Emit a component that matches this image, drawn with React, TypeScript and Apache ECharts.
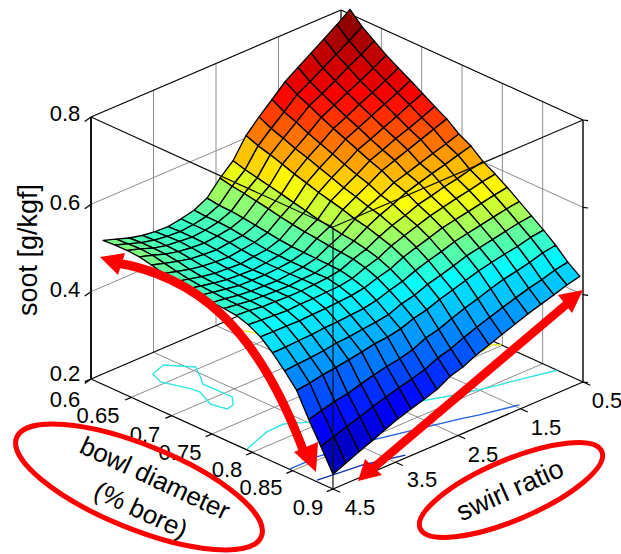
import React, { useEffect, useRef } from "react";
import * as echarts from "echarts";

const BOWL_GRID = [0.615,0.63,0.645,0.66,0.675,0.69,0.705,0.72,0.735,0.75,0.765,0.78,0.795,0.81,0.825,0.84,0.855,0.87,0.885,0.9];
const SWIRL_GRID = [0.55,0.758,0.966,1.174,1.382,1.589,1.797,2.005,2.213,2.421,2.629,2.837,3.045,3.253,3.461,3.668,3.876,4.084,4.292,4.5];

const soot00 = [.817,.795,.775,.755,.735,.715,.687,.660,.630,.585,.558,.525,.510,.503,.498,.499,.503,.510,.520,.530];
const soot01 = [.790,.770,.752,.733,.715,.698,.671,.646,.619,.577,.552,.521,.508,.502,.499,.501,.505,.512,.522,.532];
const soot02 = [.770,.751,.735,.717,.700,.685,.660,.636,.611,.571,.548,.520,.508,.502,.499,.502,.505,.512,.523,.532];
const soot03 = [.750,.733,.717,.702,.686,.671,.647,.625,.602,.565,.543,.517,.506,.501,.498,.500,.504,.511,.521,.530];
const soot04 = [.733,.717,.702,.688,.672,.658,.636,.616,.592,.559,.538,.513,.502,.499,.495,.497,.500,.507,.515,.524];
const soot05 = [.717,.702,.688,.674,.660,.646,.625,.606,.584,.552,.532,.509,.499,.495,.491,.493,.496,.501,.509,.517];
const soot06 = [.700,.687,.673,.660,.646,.634,.614,.596,.575,.546,.527,.505,.495,.492,.488,.490,.492,.497,.504,.511];
const soot07 = [.683,.670,.658,.647,.634,.622,.603,.586,.568,.539,.523,.502,.494,.490,.487,.488,.490,.495,.501,.507];
const soot08 = [.667,.656,.645,.634,.623,.612,.594,.578,.561,.535,.520,.501,.493,.490,.488,.488,.489,.494,.499,.505];
const soot09 = [.645,.635,.626,.616,.606,.597,.581,.568,.552,.530,.516,.500,.493,.490,.487,.488,.489,.492,.497,.501];
const soot10 = [.630,.622,.613,.605,.596,.587,.573,.561,.546,.527,.514,.499,.492,.491,.488,.489,.490,.492,.496,.500];
const soot11 = [.607,.601,.593,.587,.579,.572,.560,.550,.537,.521,.511,.498,.493,.491,.489,.489,.490,.491,.495,.497];
const soot12 = [.591,.586,.579,.573,.566,.559,.549,.539,.528,.513,.504,.492,.487,.486,.484,.484,.482,.484,.486,.488];
const soot13 = [.573,.568,.562,.556,.550,.544,.534,.525,.515,.501,.493,.483,.478,.476,.474,.473,.471,.472,.472,.473];
const soot14 = [.553,.549,.543,.537,.531,.525,.515,.507,.497,.485,.477,.467,.461,.459,.456,.455,.452,.451,.449,.449];
const soot15 = [.533,.529,.523,.517,.511,.505,.495,.486,.478,.466,.459,.447,.442,.439,.435,.433,.428,.425,.423,.420];
const soot16 = [.513,.509,.501,.496,.490,.483,.474,.465,.456,.445,.438,.427,.421,.418,.412,.407,.402,.398,.392,.388];
const soot17 = [.491,.486,.477,.470,.464,.455,.445,.436,.425,.413,.406,.392,.384,.379,.372,.364,.355,.350,.342,.334];
const soot18 = [.465,.459,.450,.443,.434,.425,.415,.405,.394,.381,.373,.359,.350,.343,.334,.325,.314,.305,.295,.285];
const soot19 = [.445,.438,.428,.419,.410,.399,.388,.377,.366,.352,.343,.326,.316,.307,.297,.285,.272,.260,.247,.234];
const SOOT = [soot00,soot01,soot02,soot03,soot04,soot05,soot06,soot07,soot08,soot09,soot10,soot11,soot12,soot13,soot14,soot15,soot16,soot17,soot18,soot19];

const BOWL_TICKS = [0.6,0.65,0.7,0.75,0.8,0.85,0.9];
const SWIRL_TICKS = [0.5,1.5,2.5,3.5,4.5];
const SOOT_TICKS = [0.2,0.4,0.6,0.8];

// floor contours, [bowl, swirl]
const contourCyanLoop = [[.630,3.90],[.624,3.65],[.646,3.42],[.663,3.56],[.674,3.67],[.710,3.66],[.722,3.80],[.724,3.92],[.707,3.97],[.684,3.84],[.675,3.85],[.646,3.98],[.630,3.90]];
const contourCyan = [[.792,4.48],[.780,4.01],[.779,3.73],[.792,3.48],[.830,2.16],[.843,1.73],[.852,1.34],[.856,1.10],[.868,.50]];
const contourBlue = [[.846,4.49],[.846,4.22],[.845,4.05],[.855,3.28],[.869,2.60],[.878,2.18],[.884,1.95],[.894,1.44]];
const contourNavy = [[.878,4.47],[.882,4.04],[.884,3.82],[.896,3.29]];
const contourYellowA = [[.616,2.41],[.638,2.29]];
const contourYellowB = [[.796,.77],[.793,.58],[.799,.5]];

// colour scale: soot value at each colour of the jet map
const COLOR_LEVELS = [0.23,0.32,0.48,0.575,0.695,0.81];
const COLOR_RGB = [[0,0,143],[0,0,255],[0,255,255],[255,255,0],[255,0,0],[128,0,0]];

function colorOf(z: number) {
  let k = 0;
  while (k < COLOR_LEVELS.length - 2 && z > COLOR_LEVELS[k + 1]) k++;
  const t = Math.max(0, Math.min(1, (z - COLOR_LEVELS[k]) / (COLOR_LEVELS[k + 1] - COLOR_LEVELS[k])));
  const c = COLOR_RGB[k].map((v, n) => Math.round(v + (COLOR_RGB[k + 1][n] - v) * t));
  return `rgb(${c[0]},${c[1]},${c[2]})`;
}

function project(bowl: number, swirl: number, soot: number) {
  const b = (bowl - 0.6) / 0.3;
  const s = (swirl - 0.5) / 4;
  return [341 + 242 * b - 250 * s, 272 + 110 * b + 107 * s - (soot - 0.2) * 436.7];
}

type Path3 = { pts: number[][]; color: string; width: number };
const GRAY = "#8c8c8c";
const seg = (a: number[], b: number[], color: string, width = 1.2): Path3 => ({ pts: [a, b], color, width });

const BMIN = 0.6, BMAX = 0.9, SMIN = 0.5, SMAX = 4.5, ZMIN = 0.2, ZMAX = 0.8;

function backLines(): Path3[] {
  const out: Path3[] = [];
  for (const z of SOOT_TICKS.slice(1, 3)) {
    out.push({ pts: [[BMIN, SMAX, z], [BMIN, SMIN, z], [BMAX, SMIN, z]], color: GRAY, width: 1 });
  }
  for (const sw of SWIRL_TICKS.slice(1, 4)) {
    out.push(seg([BMIN, sw, ZMIN], [BMIN, sw, ZMAX], GRAY, 1));
    out.push(seg([BMIN, sw, ZMIN], [BMAX, sw, ZMIN], GRAY, 1));
  }
  for (const bo of BOWL_TICKS.slice(1, 6)) {
    out.push(seg([bo, SMIN, ZMIN], [bo, SMIN, ZMAX], GRAY, 1));
    out.push(seg([bo, SMIN, ZMIN], [bo, SMAX, ZMIN], GRAY, 1));
  }
  out.push(seg([BMIN, SMIN, ZMIN], [BMIN, SMIN, ZMAX], "#000"));
  out.push(seg([BMIN, SMAX, ZMAX], [BMIN, SMIN, ZMAX], "#000"));
  out.push(seg([BMIN, SMIN, ZMAX], [BMAX, SMIN, ZMAX], "#000"));
  out.push(seg([BMIN, SMAX, ZMIN], [BMIN, SMIN, ZMIN], "#000"));
  out.push(seg([BMIN, SMIN, ZMIN], [BMAX, SMIN, ZMIN], "#000"));
  out.push(seg([BMIN, SMAX, ZMIN], [BMIN, SMAX, ZMAX], "#111", 2));
  out.push(seg([BMAX, SMIN, ZMIN], [BMAX, SMIN, ZMAX], "#111", 1.5));
  out.push(seg([BMIN, SMAX, ZMIN], [BMAX, SMAX, ZMIN], "#000"));
  out.push(seg([BMAX, SMAX, ZMIN], [BMAX, SMIN, ZMIN], "#000"));
  for (const bo of BOWL_TICKS) out.push(seg([bo, SMAX, ZMIN], [bo, SMAX + 0.1, ZMIN], "#000"));
  for (const sw of SWIRL_TICKS) out.push(seg([BMAX, sw, ZMIN], [BMAX + 0.009, sw, ZMIN], "#000"));
  for (const z of SOOT_TICKS) {
    out.push(seg([BMIN, SMAX, z], [BMIN, SMAX + 0.1, z - 0.004], "#000"));
    out.push(seg([BMAX, SMIN, z], [BMAX + 0.004, SMIN - 0.03, z], "#000"));
  }
  return out;
}

const contourLines = (): Path3[] => ([
  { pts: contourCyanLoop.map((p) => [p[0], p[1], ZMIN]), color: "#30e8e0", width: 1.4 },
  { pts: contourCyan.map((p) => [p[0], p[1], ZMIN]), color: "#30e8e0", width: 1.4 },
  { pts: contourBlue.map((p) => [p[0], p[1], ZMIN]), color: "#2060e8", width: 1.4 },
  { pts: contourNavy.map((p) => [p[0], p[1], ZMIN]), color: "#1030b0", width: 1.4 },
  { pts: contourYellowA.map((p) => [p[0], p[1], ZMIN]), color: "#f0f020", width: 1.4 },
  { pts: contourYellowB.map((p) => [p[0], p[1], ZMIN]), color: "#f0f020", width: 1.4 },
]);

const frontLines = (): Path3[] => ([
  seg([BMIN, SMAX, ZMAX], [BMAX, SMAX, ZMAX], "#111"),
  seg([BMAX, SMIN, ZMAX], [BMAX, SMAX, ZMAX], "#111"),
  seg([BMAX, SMAX, ZMIN], [BMAX, SMAX, ZMAX], "#111"),
]);

function pathSeries(name: string, list: Path3[], z: number) {
  return {
    type: "custom",
    name,
    coordinateSystem: "cartesian2d",
    silent: true,
    clip: false,
    z,
    data: list.map((_, k) => [k, 0]),
    renderItem: (params: any, api: any) => {
      const p = list[params.dataIndex];
      return {
        type: "polyline",
        shape: { points: p.pts.map((q) => api.coord(project(q[0], q[1], q[2]))) },
        style: { stroke: p.color, lineWidth: p.width, fill: "none" },
      };
    },
  };
}

function surfaceSeries() {
  const cells: number[][] = [];
  for (let j = 0; j < BOWL_GRID.length - 1; j++) {
    for (let i = 0; i < SWIRL_GRID.length - 1; i++) cells.push([j, i]);
  }
  return {
    type: "custom",
    name: "soot",
    coordinateSystem: "cartesian2d",
    silent: true,
    clip: false,
    z: 5,
    data: cells,
    renderItem: (params: any, api: any) => {
      const [j, i] = cells[params.dataIndex];
      const corners = [[j, i], [j, i + 1], [j + 1, i + 1], [j + 1, i]];
      const mean = corners.reduce((a, c) => a + SOOT[c[0]][c[1]], 0) / 4;
      return {
        type: "polygon",
        shape: { points: corners.map((c) => api.coord(project(BOWL_GRID[c[0]], SWIRL_GRID[c[1]], SOOT[c[0]][c[1]]))) },
        style: { fill: colorOf(mean), stroke: "#000", lineWidth: 1.35, lineJoin: "round" },
      };
    },
  };
}

const FONT = "Liberation Sans, Arial, sans-serif";
const RED = "#ff0000";
const label = (text: string, x: number, y: number, fontSize = 22, rotation = 0) => ({
  type: "text", x, y, rotation, z: 20,
  style: { text, fontSize, fontFamily: FONT, fill: "#000", textAlign: "center", textVerticalAlign: "middle", verticalAlign: "middle" },
});
const deg = (d: number) => (d * Math.PI) / 180;

function annotations() {
  return [
    label("0.8", 65, 113), label("0.6", 65, 202), label("0.4", 65, 289), label("0.2", 65, 373),
    label("0.6", 65, 399), label("0.65", 98, 415), label("0.7", 145, 434), label("0.75", 180, 452),
    label("0.8", 227, 469), label("0.85", 261, 487), label("0.9", 308, 507),
    label("4.5", 360, 507), label("3.5", 422, 479), label("2.5", 483, 454), label("1.5", 546, 427), label("0.5", 607, 400),
    label("soot [g/kgf]", 28, 250, 27, deg(90)),
    label("bowl diameter", 155, 478, 26, deg(-25)),
    label("(% bore)", 141, 510, 26, deg(-25)),
    label("swirl ratio", 510, 490, 27, deg(24)),
    { type: "ellipse", x: 139, y: 487, rotation: deg(-22), z: 21, shape: { cx: 0, cy: 0, rx: 132, ry: 42 }, style: { fill: "none", stroke: RED, lineWidth: 5 } },
    { type: "ellipse", x: 511, y: 490, rotation: deg(23), z: 21, shape: { cx: 0, cy: 0, rx: 98.6, ry: 30 }, style: { fill: "none", stroke: RED, lineWidth: 5 } },
    { type: "bezierCurve", z: 22, shape: { x1: 112, y1: 262, cpx1: 195, cpy1: 275, cpx2: 258, cpy2: 325, x2: 306, y2: 458 }, style: { fill: "none", stroke: RED, lineWidth: 9 } },
    { type: "polygon", z: 22, shape: { points: [[100, 257], [125, 253], [118, 275]] }, style: { fill: RED } },
    { type: "polygon", z: 22, shape: { points: [[316, 472], [294, 452], [318, 442]] }, style: { fill: RED } },
    { type: "line", z: 22, shape: { x1: 372, y1: 469, x2: 568, y2: 303 }, style: { stroke: RED, lineWidth: 8.5 } },
    { type: "polygon", z: 22, shape: { points: [[583, 290], [558, 295], [572, 313]] }, style: { fill: RED } },
    { type: "polygon", z: 22, shape: { points: [[358, 481], [365, 459], [382, 475]] }, style: { fill: RED } },
  ];
}

export default function App() {
  const ref = useRef<HTMLDivElement>(null);
  useEffect(() => {
    const chart = echarts.init(ref.current!, undefined, { renderer: "svg" });
    chart.setOption({
      animation: false,
      backgroundColor: "#fff",
      grid: { left: 0, top: 0, width: 621, height: 554 },
      xAxis: { type: "value", min: 0, max: 621, show: false },
      yAxis: { type: "value", min: 0, max: 554, inverse: true, show: false },
      series: [
        pathSeries("box", backLines(), 2),
        pathSeries("contours", contourLines(), 3),
        surfaceSeries(),
        pathSeries("front", frontLines(), 6),
      ],
      graphic: { elements: annotations() },
    });
    return () => chart.dispose();
  }, []);
  return <div ref={ref} style={{ position: "absolute", left: 0, top: 0, width: 621, height: 554 }} />;
}
